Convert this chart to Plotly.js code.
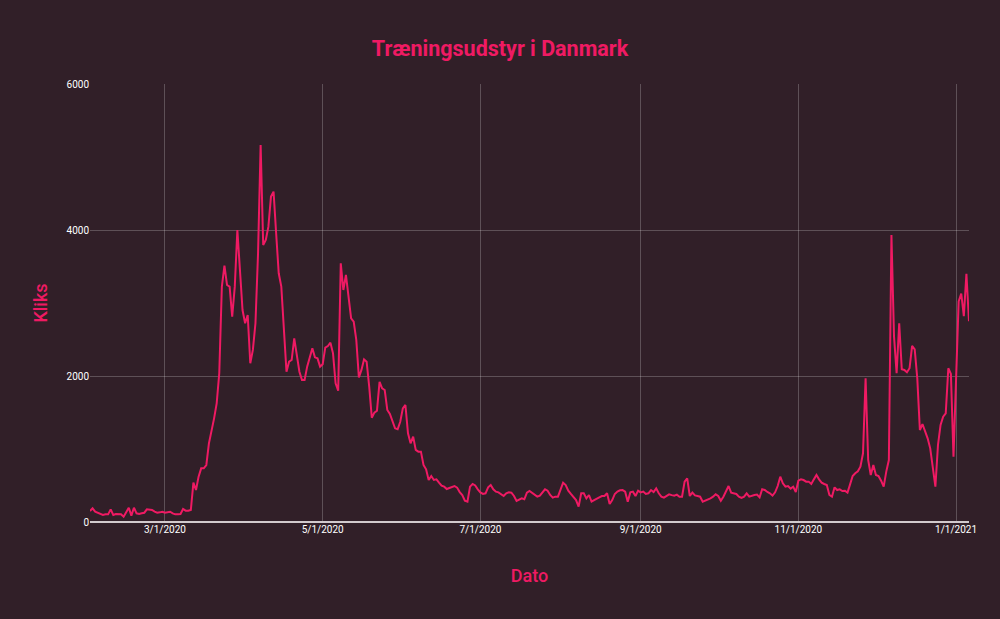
<!DOCTYPE html>
<html>
<head>
<meta charset="utf-8">
<script src="https://cdn.plot.ly/plotly-3.0.1.min.js"></script>
<style>
  html, body { margin: 0; padding: 0; background: #311f28; }
  #chart { width: 1000px; height: 619px; }
</style>
</head>
<body>
<div id="chart"></div>
<script>
// ---- Data (daily clicks) ----
const startDate = '2020-02-01';
const kliks = [
  150, 187, 141, 127, 105, 96, 105, 105, 173, 96,
  110, 105, 105, 73, 127, 196, 87, 196, 119, 110,
  119, 127, 173, 173, 164, 141, 127, 132, 141, 127,
  132, 141, 119, 105, 105, 110, 178, 155, 155, 164,
  539, 438, 621, 735, 735, 781, 1078, 1238, 1420, 1626,
  2037, 3224, 3512, 3247, 3224, 2813, 3224, 4000, 3361, 2904,
  2722, 2836, 2175, 2357, 2722, 3680, 5165, 3795, 3863, 4046,
  4457, 4525, 3955, 3407, 3224, 2584, 2059, 2196, 2219, 2516,
  2288, 2059, 1945, 1945, 2128, 2256, 2379, 2256, 2242, 2128,
  2160, 2388, 2411, 2457, 2311, 1900, 1799, 3544, 3178, 3384,
  3042, 2790, 2745, 2494, 1982, 2083, 2229, 2196, 1854, 1429,
  1498, 1525, 1920, 1830, 1808, 1534, 1479, 1374, 1283, 1270,
  1374, 1557, 1603, 1215, 1078, 1169, 987, 964, 964, 781,
  722, 576, 630, 576, 585, 539, 498, 484, 452, 466,
  484, 493, 471, 410, 370, 292, 278, 484, 521, 500,
  448, 406, 384, 393, 475, 507, 448, 416, 406, 379,
  356, 393, 406, 402, 356, 288, 311, 324, 311, 402,
  425, 402, 370, 347, 361, 402, 448, 429, 370, 333,
  347, 347, 438, 539, 507, 429, 384, 347, 300, 210,
  393, 393, 324, 370, 279, 301, 315, 338, 356, 356,
  393, 247, 301, 384, 416, 434, 438, 416, 279, 406,
  416, 356, 429, 406, 416, 384, 393, 438, 411, 461,
  393, 347, 333, 356, 379, 368, 361, 375, 347, 347,
  553, 598, 356, 402, 365, 356, 347, 279, 292, 311,
  324, 347, 379, 356, 292, 347, 429, 493, 402, 393,
  384, 347, 329, 347, 393, 347, 361, 370, 375, 338,
  448, 438, 411, 393, 361, 406, 493, 621, 530, 484,
  493, 457, 484, 411, 566, 584, 575, 553, 553, 521,
  584, 644, 584, 539, 521, 507, 370, 347, 475, 438,
  448, 425, 429, 402, 516, 630, 667, 694, 758, 941,
  1968, 849, 644, 781, 644, 630, 566, 484, 690, 849,
  3932, 2539, 2037, 2722, 2092, 2083, 2051, 2106, 2412, 2366,
  1968, 1260, 1342, 1251, 1146, 1009, 735, 484, 1055, 1329,
  1443, 1489, 2106, 2028, 895, 1945, 3020, 3130, 2820, 3400,
  2750
];

// dates, one per value, consecutive days from startDate
const dates = [];
(function () {
  const p = startDate.split('-').map(Number);
  for (let i = 0; i < kliks.length; i++) {
    const d = new Date(Date.UTC(p[0], p[1] - 1, p[2] + i));
    dates.push(d.toISOString().slice(0, 10));
  }
})();

const pink = '#ef1a63';
const bg = '#311f28';
const font = 'Roboto, "Open Sans", sans-serif';

const trace = {
  type: 'scatter',
  mode: 'lines',
  x: dates,
  y: kliks,
  line: { color: pink, width: 2 },
  hoverinfo: 'skip'
};

const layout = {
  width: 1000,
  height: 619,
  paper_bgcolor: bg,
  plot_bgcolor: bg,
  margin: { l: 90, r: 31, t: 84, b: 97 },
  showlegend: false,
  title: {
    text: '<b>Træningsudstyr i Danmark</b>',
    font: { family: font, size: 21.5, color: pink },
    x: 0.5, xanchor: 'center',
    y: 1 - 48 / 619, yref: 'container', yanchor: 'middle'
  },
  xaxis: {
    type: 'date',
    tickformat: '%-m/%-d/%Y',
    tick0: '2020-03-01',
    dtick: 'M2',
    showgrid: true,
    gridcolor: 'rgba(255,255,255,0.22)',
    gridwidth: 1,
    zeroline: false,
    showline: false,
    ticks: '',
    tickfont: { family: font, size: 10, color: '#ffffff' },
    title: {
      text: 'Dato',
      font: { family: font, size: 18, color: pink, weight: 500 },
      standoff: 35
    },
    automargin: false
  },
  yaxis: {
    range: [0, 6000],
    dtick: 2000,
    tick0: 0,
    showgrid: true,
    gridcolor: 'rgba(255,255,255,0.22)',
    gridwidth: 1,
    zeroline: true,
    zerolinecolor: '#d2cacd',
    zerolinewidth: 2,
    showline: false,
    ticks: '',
    tickfont: { family: font, size: 10, color: '#ffffff' },
    title: {
      text: 'Kliks',
      font: { family: font, size: 18, color: pink, weight: 500 },
      standoff: 14
    },
    automargin: false
  }
};

Plotly.newPlot('chart', [trace], layout, { displayModeBar: false, staticPlot: true });
</script>
</body>
</html>
